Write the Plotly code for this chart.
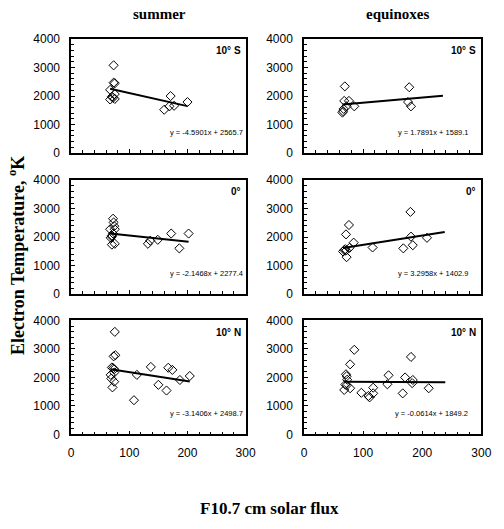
import plotly.graph_objects as go

# ---------------- data ----------------
# summer, 10 S
sum_10s_x = [73, 73, 75, 67, 75, 70, 67, 72, 75, 160, 169, 177, 171, 200]
sum_10s_y = [3080, 2470, 2450, 2220, 2070, 1980, 1880, 1940, 1900, 1520, 1640, 1660, 2000, 1790]
# equinoxes, 10 S
eq_10s_x = [69, 68, 76, 72, 85, 67, 66, 65, 178, 176, 181]
eq_10s_y = [2340, 1830, 1830, 1640, 1640, 1550, 1470, 1420, 2310, 1790, 1640]
# summer, 0
sum_0_x = [72, 73, 74, 67, 75, 72, 70, 68, 70, 70, 75, 132, 136, 149, 172, 186, 202]
sum_0_y = [2650, 2520, 2390, 2280, 2280, 2130, 2020, 1980, 2060, 1740, 1770, 1770, 1880, 1910, 2130, 1610, 2130]
# equinoxes, 0
eq_0_x = [76, 71, 84, 77, 66, 68, 70, 71, 72, 116, 168, 180, 181, 184, 208]
eq_0_y = [2430, 2100, 1810, 1630, 1500, 1550, 1580, 1530, 1300, 1640, 1610, 2890, 2020, 1720, 1980]
# summer, 10 N
sum_10n_x = [75, 73, 76, 70, 72, 74, 68, 74, 69, 74, 71, 108, 113, 137, 150, 164, 167, 174, 187, 204]
sum_10n_y = [3600, 2740, 2780, 2350, 2320, 2290, 2090, 2170, 1960, 1850, 1650, 1200, 2090, 2370, 1740, 1540, 2340, 2265, 1910, 2050]
# equinoxes, 10 N
eq_10n_x = [85, 181, 78, 71, 72, 73, 70, 72, 68, 78, 97, 109, 111, 117, 117, 141, 143, 167, 171, 184, 183, 211]
eq_10n_y = [2970, 2720, 2460, 2110, 2040, 1920, 1750, 1720, 1560, 1620, 1460, 1350, 1300, 1640, 1440, 1760, 2075, 1440, 2000, 1910, 1800, 1620]

# trendline coefficients (from the printed equations) and trendline end
slopes = [-4.5901, 1.7891, -2.1468, 3.2958, -3.1406, -0.0614]
intercepts = [2565.7, 1589.1, 2277.4, 1402.9, 2498.7, 1849.2]
trend_end = [200, 235, 202, 238, 204, 239]
equations = ["y = -4.5901x + 2565.7", "y = 1.7891x + 1589.1",
             "y = -2.1468x + 2277.4", "y = 3.2958x + 1402.9",
             "y = -3.1406x + 2498.7", "y = -0.0614x + 1849.2"]
lat_labels = ["10° S", "10° S", "0°", "0°", "10° N", "10° N"]
col_titles = ["summer", "equinoxes"]
x_ticks = [0, 100, 200, 300]
y_ticks = [0, 1000, 2000, 3000, 4000]

xs = [sum_10s_x, eq_10s_x, sum_0_x, eq_0_x, sum_10n_x, eq_10n_x]
ys = [sum_10s_y, eq_10s_y, sum_0_y, eq_0_y, sum_10n_y, eq_10n_y]

# ---------------- layout geometry (pixels) ----------------
W, H = 504, 529
col_px = [(70, 249), (309, 491)]
row_px = [(33, 150), (178, 295), (322, 439)]

def px_x(p):
    return p / W

def px_y(p):
    return 1 - p / H

fig = go.Figure()
layout = dict(width=W, height=H, margin=dict(l=0, r=0, t=0, b=0),
              paper_bgcolor="white", plot_bgcolor="white", showlegend=False)

ann = []
for i in range(6):
    r, c = divmod(i, 2)
    k = i + 1
    xa = "x" if k == 1 else f"x{k}"
    ya = "y" if k == 1 else f"y{k}"
    fig.add_trace(go.Scatter(x=xs[i], y=ys[i], mode="markers", xaxis=xa, yaxis=ya,
                             marker=dict(symbol="diamond-open", size=7, color="black",
                                         line=dict(width=1, color="black"))))
    x0 = min(xs[i]); x1 = trend_end[i]
    fig.add_trace(go.Scatter(x=[x0, x1], y=[slopes[i] * x0 + intercepts[i], slopes[i] * x1 + intercepts[i]],
                             mode="lines", xaxis=xa, yaxis=ya,
                             line=dict(color="black", width=2)))
    cx0, cx1 = col_px[c]
    ry0, ry1 = row_px[r]
    axfont = dict(family="Liberation Sans, Arial", size=12, color="black")
    layout["xaxis" if k == 1 else f"xaxis{k}"] = dict(
        domain=[px_x(cx0), px_x(cx1)], anchor=ya, range=[0, 300],
        tickvals=x_ticks, showticklabels=(r == 2), ticks="inside", ticklen=4,
        tickcolor="black", showline=True, linecolor="black", linewidth=1.5, mirror=True,
        showgrid=False, zeroline=False, tickfont=axfont, ticklabelstandoff=6,
        minor=dict(dtick=20, ticks="inside", ticklen=3, tickcolor="black", showgrid=False))
    layout["yaxis" if k == 1 else f"yaxis{k}"] = dict(
        domain=[px_y(ry1), px_y(ry0)], anchor=xa, range=[0, 4000],
        tickvals=y_ticks, ticks="inside", ticklen=4, tickcolor="black",
        showline=True, linecolor="black", linewidth=1.5, mirror=True,
        showgrid=False, zeroline=False, tickfont=axfont, ticklabelstandoff=7,
        minor=dict(dtick=200, ticks="inside", ticklen=3, tickcolor="black", showgrid=False))
    # latitude label
    ann.append(dict(text=f"<b>{lat_labels[i]}</b>", xref="paper", yref="paper",
                    x=px_x(cx1 - 3), y=px_y(ry0 + 12), xanchor="right", yanchor="middle",
                    showarrow=False, font=dict(family="Liberation Sans, Arial", size=10, color="black")))
    # equation
    eq_right = cx1 - 1 if c == 0 else cx1 - 12
    ann.append(dict(text=equations[i], xref="paper", yref="paper",
                    x=px_x(eq_right), y=px_y(ry1 - 21), xanchor="right", yanchor="middle",
                    showarrow=False, font=dict(family="Liberation Sans, Arial", size=7.5, color="black")))

# column titles
for c, t in enumerate(col_titles):
    cx = [161, 405][c]
    ann.append(dict(text=f"<b>{t}</b>", xref="paper", yref="paper", x=px_x(cx), y=px_y(7),
                    xanchor="center", yanchor="middle", showarrow=False,
                    font=dict(family="Liberation Serif, Times New Roman", size=15, color="black")))

# axis titles
ann.append(dict(text="<b>F10.7 cm solar flux</b>", xref="paper", yref="paper", x=px_x(274), y=px_y(515),
                xanchor="center", yanchor="middle", showarrow=False,
                font=dict(family="Liberation Serif, Times New Roman", size=17, color="black")))
ann.append(dict(text="<b>Electron Temperature, <sup>o</sup>K</b>", xref="paper", yref="paper",
                x=px_x(14), y=px_y(255), xanchor="center", yanchor="middle", textangle=-90,
                showarrow=False, font=dict(family="Liberation Serif, Times New Roman", size=18, color="black")))

layout["annotations"] = ann
fig.update_layout(**layout)
fig.write_html("out.html")
